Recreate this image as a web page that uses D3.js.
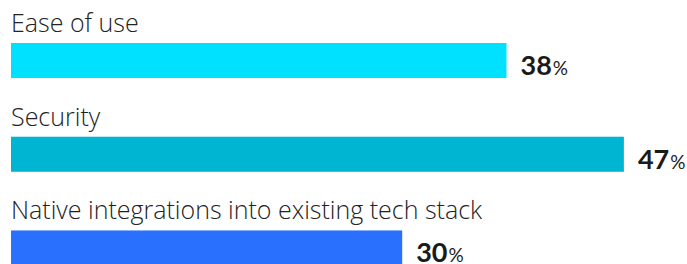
<!DOCTYPE html>
<html>
<head>
  <meta charset="utf-8">
  <script src="https://cdn.jsdelivr.net/npm/d3@7"></script>
  <style>
body {
  margin: 0;
  background: #fff;
}
.cat {
  font: 300 25px "Open Sans", sans-serif;
  fill: #222;
}
.val {
  font: 700 27px Lato, sans-serif;
  fill: #1a1a1a;
}
.val tspan.pct {
  font-weight: 400;
  font-size: 19px;
}
  </style>
</head>
<body>
  <svg width="687" height="264"></svg>
  <script>

const categories = ["Ease of use", "Security", "Native integrations into existing tech stack"];
const values = [38, 47, 30];
const colors = ["#00e1ff", "#00b5d1", "#2970ff"];

var svg = d3.select("svg");

var x = d3.scaleLinear()
          .domain([0, 50])
          .range([11, 663]);

var y = d3.scaleBand()
          .domain(categories)
          .range([43, 265.5])
          .paddingInner(0.626)
          .paddingOuter(0);

var rows = svg.selectAll("g.row")
              .data(categories)
              .enter().append("g")
              .attr("class", "row");

rows.append("rect")
    .attr("x", x(0))
    .attr("y", d => y(d))
    .attr("width", (d, i) => x(values[i]) - x(0))
    .attr("height", y.bandwidth())
    .attr("fill", (d, i) => colors[i]);

rows.append("text")
    .attr("class", "cat")
    .attr("x", x(0))
    .attr("y", d => y(d) - 11)
    .text(d => d);

var val = rows.append("text")
              .attr("class", "val")
              .attr("x", (d, i) => x(values[i]) + 14)
              .attr("y", d => y(d) + 32);

val.append("tspan").text((d, i) => values[i]);
val.append("tspan").attr("class", "pct").attr("dx", 1).text("%");

  </script>
</body>
</html>
